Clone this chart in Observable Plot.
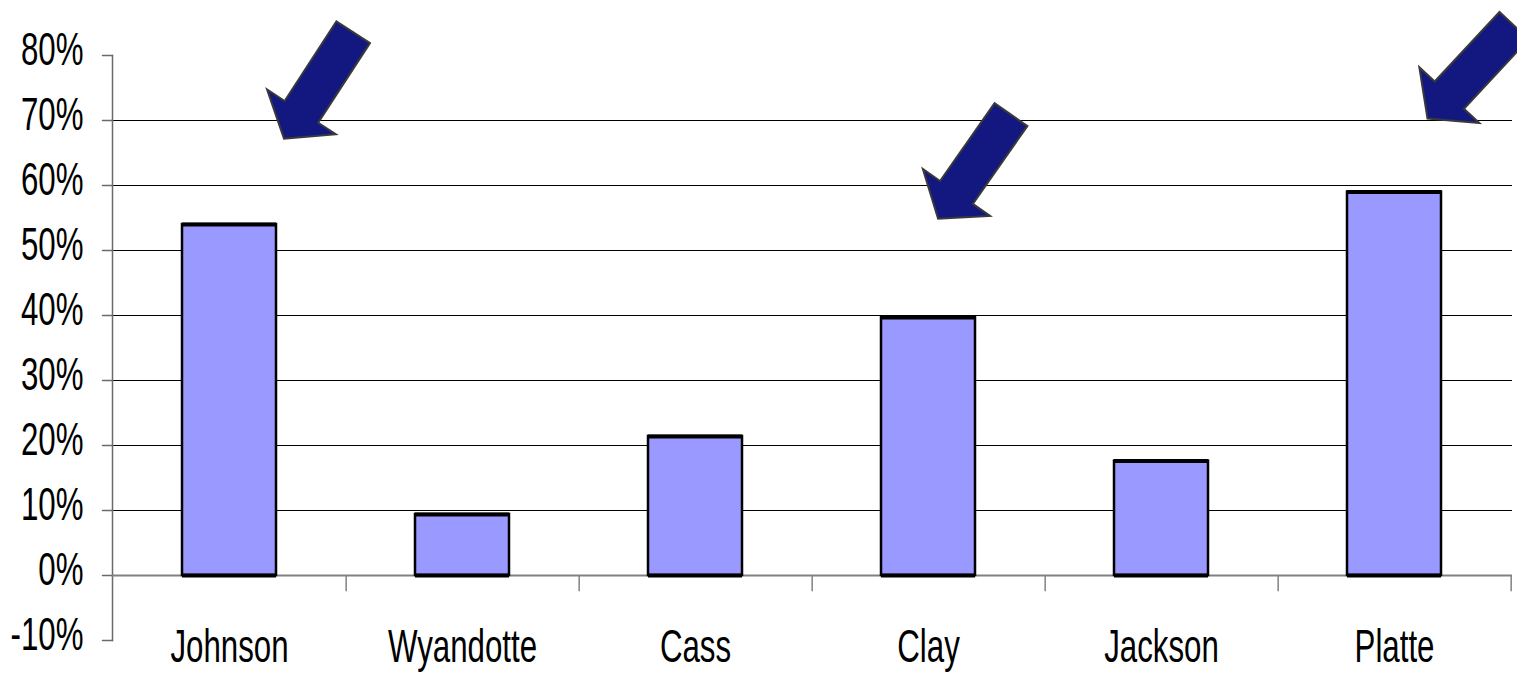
<!DOCTYPE html>
<html>
<head>
<meta charset="utf-8">
<script src="https://cdn.jsdelivr.net/npm/d3@7"></script>
<script src="https://cdn.jsdelivr.net/npm/@observablehq/plot@0.6"></script>
<style>
  html, body { margin: 0; padding: 0; background: #ffffff; }
  #chart svg { display: block; }
</style>
</head>
<body>
<div id="chart"></div>
<script>
// ---- data ----
const counties = ["Johnson", "Wyandotte", "Cass", "Clay", "Jackson", "Platte"];
const shares = [0.540, 0.094, 0.214, 0.397, 0.176, 0.590];
const yTicks = [-0.1, 0, 0.1, 0.2, 0.3, 0.4, 0.5, 0.6, 0.7, 0.8];
const gridTicks = [0.1, 0.2, 0.3, 0.4, 0.5, 0.6, 0.7];
const arrowCounties = ["Johnson", "Clay", "Platte"];
const arrowValues = [0.672, 0.549, 0.703];

const rows = counties.map((county, i) => ({county, share: shares[i]}));
const arrows = arrowCounties.map((county, i) => ({county, value: arrowValues[i]}));

// ---- layout ----
const W = 1517, H = 673;
const mL = 112, mR = 5, mT = 55, mB = 33;
const step = (W - mL - mR) / counties.length;
const fmt = d3.formatLocale({decimal: ".", thousands: ",", grouping: [3], currency: ["$", ""], minus: "-"}).format(".0%");
const FONT = "'Liberation Sans', Arial, sans-serif";

// block arrow shape for Plot.vector (tail at origin, tip at (0,-l))
const blockArrow = {
  draw(context, l) {
    const sw = 40, hw = 82, hl = 32;
    context.moveTo(-sw / 2, 0);
    context.lineTo(-sw / 2, -(l - hl));
    context.lineTo(-hw / 2, -(l - hl));
    context.lineTo(0, -l);
    context.lineTo(hw / 2, -(l - hl));
    context.lineTo(sw / 2, -(l - hl));
    context.lineTo(sw / 2, 0);
    context.closePath();
  }
};
const lineShape = {
  draw(context, l) { context.moveTo(0, 0); context.lineTo(0, -l); }
};

const arrowStyle = [
  {dx: 54.5, rotate: 213},
  {dx: 9.6, rotate: 215},
  {dx: 33, rotate: 223}
];

const arrowMarks = arrows.map((a, i) =>
  Plot.vector([a], {
    x: "county", y: "value",
    length: 127, rotate: arrowStyle[i].rotate, anchor: "end",
    dx: arrowStyle[i].dx,
    shape: blockArrow,
    fill: "#121880", stroke: "#3a3a3a", strokeWidth: 2, strokeLinejoin: "miter"
  })
);

const chart = Plot.plot({
  width: W, height: H,
  marginLeft: mL, marginRight: mR, marginTop: mT, marginBottom: mB,
  style: {background: "#ffffff", fontFamily: FONT, overflow: "visible"},
  x: {type: "band", domain: counties, paddingInner: 0.595, paddingOuter: 0.2975, axis: null},
  y: {domain: [-0.1, 0.8], axis: null},
  marks: [
    // horizontal gridlines
    Plot.ruleY(gridTicks, {stroke: "#000000", strokeWidth: 1}),
    // y axis line
    Plot.frame({anchor: "left", stroke: "#6a6a6a", strokeWidth: 1.5}),
    // y ticks
    Plot.vector(yTicks, {y: d => d, frameAnchor: "left", rotate: 90, length: 10, anchor: "end",
      shape: lineShape, stroke: "#6a6a6a", strokeWidth: 1.5}),
    // y tick labels
    Plot.text(yTicks, {y: d => d, text: d => fmt(d), frameAnchor: "left", textAnchor: "end",
      lineAnchor: "middle", dx: -29, dy: -5, fontSize: 46, fill: "#000000"}),
    // category boundary ticks
    Plot.ruleX(counties, {x: d => d, y1: 0, y2: -0.025, dx: step / 2, stroke: "#808080", strokeWidth: 1.5}),
    // zero line
    Plot.ruleY([0], {stroke: "#808080", strokeWidth: 2}),
    // bars
    Plot.barY(rows, {x: "county", y: "share", fill: "#9999ff", stroke: "#000000", strokeWidth: 2.5}),
    Plot.tickY(rows, {x: "county", y: "share", stroke: "#000000", strokeWidth: 4}),
    Plot.tickY(rows, {x: "county", y: () => 0, stroke: "#000000", strokeWidth: 4}),
    // category labels
    Plot.text(counties, {x: d => d, text: d => d, frameAnchor: "bottom", lineAnchor: "middle",
      dy: 7, fontSize: 46, fill: "#000000"}),
    // arrows
    ...arrowMarks
  ]
});

// condense the text horizontally (narrow typeface look)
const SX = 0.68;
chart.querySelectorAll("text").forEach(t => {
  const x = +(t.getAttribute("x") || 0);
  const tr = t.getAttribute("transform") || "";
  t.setAttribute("transform", `${tr} translate(${x},0) scale(${SX},1) translate(${-x},0)`);
});

document.getElementById("chart").appendChild(chart);
</script>
</body>
</html>
